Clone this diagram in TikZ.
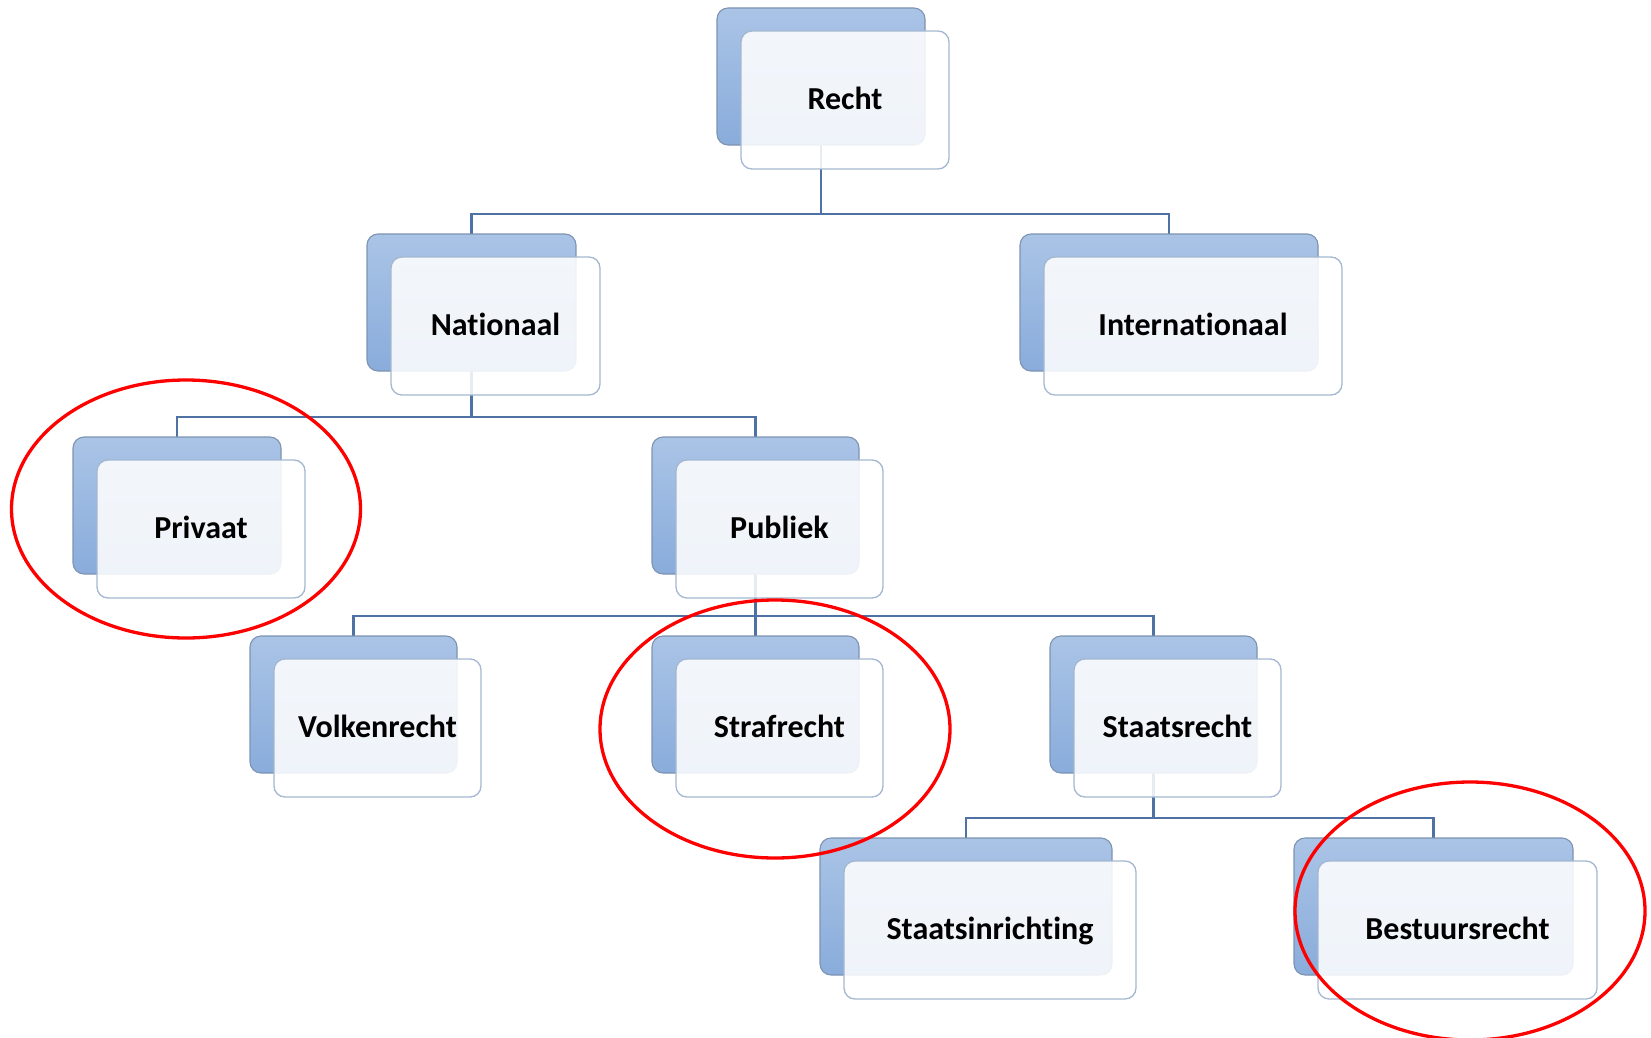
\documentclass[tikz,border=0pt]{standalone}
\usepackage{fontspec}
\setmainfont{Carlito}[Ligatures=NoCommon,Contextuals=NoAlternate]
\usetikzlibrary{backgrounds}
\definecolor{backtop}{HTML}{AAC4E6}
\definecolor{backbot}{HTML}{89ACDB}
\definecolor{backline}{HTML}{7D93B2}
\definecolor{frontline}{HTML}{A3B8D0}
\definecolor{connc}{HTML}{4D72A3}
\tikzset{
  backbox/.style={rounded corners=11pt, draw=backline, line width=1.1pt,
    top color=backtop, bottom color=backbot, anchor=north west,
    minimum height=137pt, inner sep=0pt, outer sep=0pt},
  frontbox/.style={rounded corners=11pt, draw=frontline, line width=1.3pt,
    fill=white, fill opacity=0.87, text opacity=1, anchor=north west,
    minimum height=138pt, inner sep=0pt, outer sep=0pt, text depth=4pt,
    font=\fontsize{32}{38}\selectfont\bfseries, text=black},
  conn/.style={draw=connc, line width=2.2pt},
  ring/.style={draw=red, line width=3.3pt},
}
\newcommand\orgbox[5]{%
  \node[backbox, minimum width=#4pt] (#1b) at (#2,#3) {};
  \node[frontbox, minimum width=#4pt] (#1) at (#2+24,#3+23) {#5};
}
\newcommand\orgconn[2]{%
  \draw[conn] (#1b.south) |- ([yshift=20pt]#2b.north) -- (#2b.north);
}
\begin{document}
\begin{tikzpicture}[x=1pt,y=-1pt]
\useasboundingbox (0,0) rectangle (1651,1038);
\orgbox{recht}{717}{8}{208}{Recht}
\orgbox{nationaal}{367}{234}{209}{Nat\kern0pt ionaal}
\orgbox{internationaal}{1020}{234}{298}{Internat\kern0pt ionaal}
\orgbox{privaat}{73}{437}{208}{Privaat}
\orgbox{publiek}{652}{437}{207}{Publiek}
\orgbox{volkenrecht}{250}{636}{207}{Volkenrecht}
\orgbox{strafrecht}{652}{636}{207}{Strafrecht}
\orgbox{staatsrecht}{1050}{636}{207}{Staatsrecht}
\orgbox{staatsinrichting}{820}{838}{292}{Staatsinricht\kern0pt ing}
\orgbox{bestuursrecht}{1294}{838}{279}{Bestuursrecht}
\begin{pgfonlayer}{background}
\orgconn{recht}{nationaal}
\orgconn{recht}{internationaal}
\orgconn{nationaal}{privaat}
\orgconn{nationaal}{publiek}
\orgconn{publiek}{volkenrecht}
\orgconn{publiek}{strafrecht}
\orgconn{publiek}{staatsrecht}
\orgconn{staatsrecht}{staatsinrichting}
\orgconn{staatsrecht}{bestuursrecht}
\end{pgfonlayer}
\draw[ring] (186,509) ellipse [x radius=174.5pt, y radius=129pt];
\draw[ring] (775,729) ellipse [x radius=175pt, y radius=129pt];
\draw[ring] (1470,911) ellipse [x radius=175pt, y radius=129pt];
\end{tikzpicture}
\end{document}
